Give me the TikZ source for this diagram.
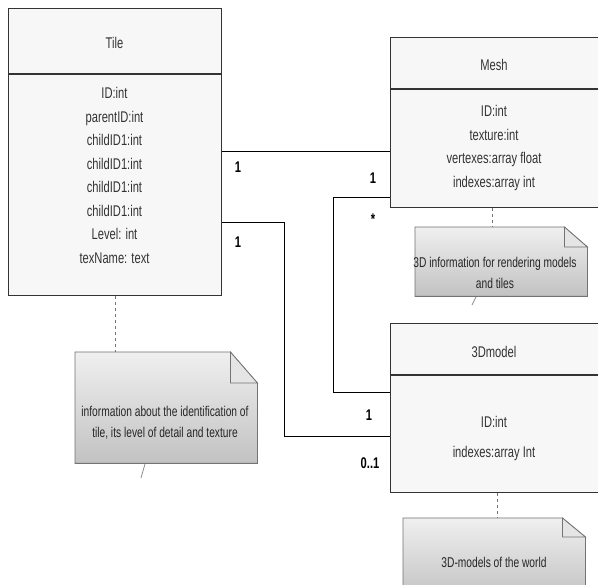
\documentclass[tikz,border=0pt]{standalone}
\usepackage{fontspec}
\setmainfont[FakeStretch=0.72]{Liberation Sans}
\usetikzlibrary{calc}
\begin{document}
\begin{tikzpicture}[x=1pt,y=-1pt,
  box/.style={draw=black!80, line width=1.1pt, fill=white!97!black, anchor=north west, inner sep=0pt},
  div/.style={draw=black!80, line width=1.1pt},
  txt/.style={text=black!80, font=\fontsize{15.5}{23.5}\selectfont, align=center, inner sep=0pt},
  notetxt/.style={text=black!85, font=\fontsize{14.2}{21}\selectfont, align=center, inner sep=0pt},
  mult/.style={font=\fontsize{15.5}{15}\selectfont\bfseries, inner sep=0pt},
  conn/.style={draw=black, line width=1pt},
  anchorline/.style={draw=black!55, line width=0.9pt, dash pattern=on 3pt off 3pt},
  notearea/.style={anchor=north west, inner sep=0pt},
  notebody/.style={draw=black!55, line width=0.8pt, top color=black!6, bottom color=black!24},
  notefold/.style={draw=black!55, line width=0.8pt, fill=black!10},
  tick/.style={draw=black!45, line width=0.8pt}
]
\useasboundingbox (0,0) rectangle (598,585);
\fill[white] (0,0) rectangle (598,585);

% classes
\node[box, minimum width=213pt, minimum height=287pt] (tile) at (8,8) {};
\node[box, minimum width=212pt, minimum height=170pt] (mesh) at (390,37) {};
\node[box, minimum width=212pt, minimum height=169pt] (model) at (390,323) {};

\coordinate (ytd) at (0,74);
\coordinate (ymd) at (0,89);
\coordinate (yod) at (0,375);
\draw[div] (tile.west |- ytd) -- (tile.east |- ytd);
\draw[div] (mesh.west |- ymd) -- (mesh.east |- ymd);
\draw[div] (model.west |- yod) -- (model.east |- yod);

\node[txt] (tiletitle) at (114.5,43) {Tile};
\node[txt] (tileattr) at (114.5,175.5) {ID:int\\parentID:int\\childID1:int\\childID1:int\\childID1:int\\childID1:int\\Level: int\\texName: text};

\node[txt] (meshtitle) at (494,65) {Mesh};
\node[txt, font=\fontsize{15.5}{23.4}\selectfont] (meshattr) at (494,148) {ID:int\\texture:int\\vertexes:array float\\indexes:array int};

\node[txt] (modeltitle) at (494,352) {3Dmodel};
\node[txt, font=\fontsize{15.5}{30}\selectfont] (modelattr) at (494,438) {ID:int\\indexes:array Int};

% connectors
\coordinate (y1) at (0,152);
\coordinate (y2) at (0,223);
\coordinate (y3) at (0,437);
\coordinate (y4) at (0,198);
\coordinate (y5) at (0,393);
\coordinate (k2) at (284,223);
\coordinate (k3) at (333,198);
\draw[conn] (tile.east |- y1) -- (mesh.west |- y1);
\draw[conn] (tile.east |- y2) -- (k2) -- (k2 |- y3) -- (model.west |- y3);
\draw[conn] (mesh.west |- y4) -- (k3) -- (k3 |- y5) -- (model.west |- y5);

\node[mult] (m1) at (238,167) {1};
\node[mult] (m2) at (373,178) {1};
\node[mult] (m3) at (238,242) {1};
\node[mult] (m4) at (373,219) {*};
\node[mult] (m5) at (369,415) {1};
\node[mult] (m6) at (370,463) {0..1};

% notes
\node[notearea, minimum width=182pt, minimum height=111pt] (ntile) at (75,352) {};
\path[notebody] (ntile.north west) -- ($(ntile.north east)+(-27,0)$) -- ($(ntile.north east)+(0,31)$) -- (ntile.south east) -- (ntile.south west) -- cycle;
\path[notefold] ($(ntile.north east)+(-27,0)$) -- ($(ntile.north east)+(-27,31)$) -- ($(ntile.north east)+(0,31)$) -- cycle;
\node[notetxt] (ntiletxt) at (165,422.5) {information about the identification of\\tile, its level of detail and texture};

\node[notearea, minimum width=172pt, minimum height=69pt] (nmesh) at (415,227) {};
\path[notebody] (nmesh.north west) -- ($(nmesh.north east)+(-23,0)$) -- ($(nmesh.north east)+(0,20)$) -- (nmesh.south east) -- (nmesh.south west) -- cycle;
\path[notefold] ($(nmesh.north east)+(-23,0)$) -- ($(nmesh.north east)+(-23,20)$) -- ($(nmesh.north east)+(0,20)$) -- cycle;
\node[notetxt] (nmeshtxt) at (495,273) {3D information for rendering models\\and tiles};

\node[notearea, minimum width=182pt, minimum height=80pt] (nmodel) at (403,518) {};
\path[notebody] (nmodel.north west) -- ($(nmodel.north east)+(-23,0)$) -- ($(nmodel.north east)+(0,19)$) -- (nmodel.south east) -- (nmodel.south west) -- cycle;
\path[notefold] ($(nmodel.north east)+(-23,0)$) -- ($(nmodel.north east)+(-23,19)$) -- ($(nmodel.north east)+(0,19)$) -- cycle;
\node[notetxt] (nmodeltxt) at (494,562) {3D-models of the world};

% note anchors
\coordinate (x1) at (115,0);
\coordinate (x2) at (492,0);
\coordinate (x3) at (497,0);
\draw[anchorline] (tile.south -| x1) -- (ntile.north -| x1);
\draw[anchorline] (mesh.south -| x2) -- (nmesh.north -| x2);
\draw[anchorline] (model.south -| x3) -- (nmodel.north -| x3);

% small ticks below notes
\draw[tick] (145,464) -- (141,478);
\draw[tick] (476,297) -- (472,305);
\end{tikzpicture}
\end{document}
